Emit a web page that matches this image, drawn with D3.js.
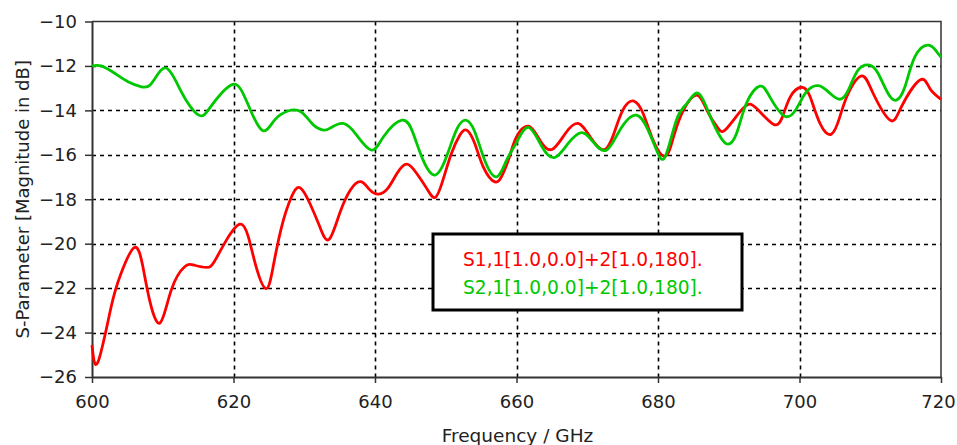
<!DOCTYPE html>
<html>
<head>
<meta charset="utf-8">
<script src="https://cdn.jsdelivr.net/npm/d3@7/dist/d3.min.js"></script>
<style>
  body { margin: 0; background: #fff; }
  text { font-family: "DejaVu Sans", Verdana, sans-serif; }
</style>
</head>
<body>
<script>
var s11Freq = [600.0, 600.85, 602.7, 604.1, 606.0, 607.2, 608.15, 609.6, 611.2, 613.1, 614.5, 616.2, 617.3, 619.0, 620.9, 622.1, 623.2, 624.6, 625.6, 626.8, 628.2, 629.4, 630.8, 632.2, 633.5, 635.0, 636.5, 638.0, 639.3, 640.5, 641.8, 643.1, 644.5, 645.9, 647.3, 648.5, 649.6, 650.8, 652.0, 652.96, 654.1, 655.3, 656.96, 658.1, 659.1, 660.0, 661.7, 663.3, 665.0, 666.9, 668.7, 670.4, 672.5, 674.1, 675.3, 676.6, 677.9, 679.3, 681.0, 682.2, 683.6, 685.5, 686.9, 688.5, 689.6, 691.6, 693.0, 694.4, 696.3, 697.5, 698.7, 700.3, 701.5, 702.9, 704.5, 705.7, 706.9, 708.8, 710.4, 712.8, 714.4, 717.0, 718.4, 720.0];
var s11 = [-24.57, -25.32, -22.85, -21.34, -20.17, -21.05, -22.55, -23.57, -22.09, -21.04, -20.97, -21.07, -20.8, -19.84, -19.12, -19.69, -21.04, -22.02, -21.04, -19.24, -17.89, -17.48, -18.19, -19.24, -19.81, -18.64, -17.59, -17.21, -17.59, -17.77, -17.51, -16.84, -16.42, -16.84, -17.51, -17.92, -17.14, -15.94, -15.11, -14.89, -15.49, -16.54, -17.22, -16.84, -16.0, -15.19, -14.71, -15.34, -15.76, -15.04, -14.59, -15.19, -15.76, -14.74, -13.84, -13.58, -14.14, -15.34, -16.06, -15.19, -13.99, -13.31, -13.99, -14.81, -14.85, -14.06, -13.72, -14.06, -14.62, -14.36, -13.39, -12.96, -13.39, -14.59, -15.07, -14.29, -13.23, -12.45, -13.23, -14.44, -13.84, -12.64, -13.0, -13.5];

var s21Freq = [600.0, 601.3, 603.2, 605.1, 607.0, 608.2, 609.4, 610.6, 611.9, 613.3, 615.2, 616.6, 618.3, 619.9, 621.1, 622.5, 624.2, 625.8, 627.7, 629.6, 631.3, 632.7, 633.6, 635.5, 637.4, 639.5, 641.2, 643.8, 645.4, 646.8, 648.5, 650.1, 651.5, 652.8, 654.1, 655.5, 657.2, 658.6, 660.0, 661.7, 663.6, 665.4, 667.3, 669.2, 670.8, 672.7, 674.6, 676.9, 678.6, 679.8, 681.0, 682.6, 684.1, 685.7, 687.3, 688.8, 689.9, 691.1, 692.5, 694.4, 695.8, 697.9, 699.6, 701.0, 702.7, 704.3, 705.7, 706.9, 708.3, 709.9, 711.1, 712.5, 713.7, 714.9, 716.3, 718.2, 719.4, 720.0];
var s21 = [-12.0, -12.0, -12.33, -12.71, -12.94, -12.86, -12.33, -12.11, -12.71, -13.54, -14.23, -13.91, -13.23, -12.83, -13.09, -14.06, -14.92, -14.44, -14.03, -14.08, -14.66, -14.89, -14.81, -14.59, -15.11, -15.79, -15.19, -14.44, -15.04, -16.24, -16.91, -16.09, -14.89, -14.44, -14.96, -16.24, -16.99, -16.24, -15.45, -14.77, -15.64, -16.12, -15.49, -15.0, -15.41, -15.79, -14.89, -14.21, -14.89, -15.79, -16.09, -14.44, -13.68, -13.23, -14.21, -15.19, -15.52, -15.04, -13.68, -12.91, -13.39, -14.26, -13.91, -13.16, -12.89, -13.23, -13.5, -13.09, -12.18, -11.96, -12.33, -13.23, -13.54, -12.94, -11.59, -11.06, -11.36, -11.6];

var xTicks = [600, 620, 640, 660, 680, 700, 720];
var yTicks = [-10, -12, -14, -16, -18, -20, -22, -24, -26];
var legendLabels = ['S1,1[1.0,0.0]+2[1.0,180].', 'S2,1[1.0,0.0]+2[1.0,180].'];
var colors = ['#ff0000', '#00c800'];

var screen = { width: 957, height: 445 };
var margins = { top: 21.5, bottom: 68, left: 92, right: 16 };

var xScale = d3.scaleLinear()
               .domain([600, 720])
               .range([margins.left, screen.width - margins.right]);
var yScale = d3.scaleLinear()
               .domain([-26, -10])
               .range([screen.height - margins.bottom, margins.top]);

var svg = d3.select('body').append('svg')
            .attr('width', screen.width)
            .attr('height', screen.height);

// grid
svg.append('g')
   .classed('grid', true)
   .selectAll('line.v')
   .data(xTicks.slice(1, -1))
   .enter()
   .append('line')
   .attr('x1', function(d){ return Math.round(xScale(d)) + 0.5; })
   .attr('x2', function(d){ return Math.round(xScale(d)) + 0.5; })
   .attr('y1', yScale(-10))
   .attr('y2', yScale(-26))
   .attr('stroke', '#000')
   .attr('stroke-width', 1.6)
   .attr('stroke-dasharray', '4,4');

svg.select('.grid')
   .selectAll('line.h')
   .data(yTicks.slice(1, -1))
   .enter()
   .append('line')
   .attr('y1', function(d){ return Math.round(yScale(d)) + 0.5; })
   .attr('y2', function(d){ return Math.round(yScale(d)) + 0.5; })
   .attr('x1', xScale(600))
   .attr('x2', xScale(720))
   .attr('stroke', '#000')
   .attr('stroke-width', 1.6)
   .attr('stroke-dasharray', '4,4');

// frame top and right
svg.append('path')
   .attr('d', 'M' + xScale(600) + ',' + yScale(-10) + 'H' + xScale(720) + 'V' + yScale(-26))
   .attr('fill', 'none')
   .attr('stroke', '#333')
   .attr('stroke-width', 1.5);

var xAxis = d3.axisBottom(xScale)
              .tickValues(xTicks)
              .tickSize(6)
              .tickSizeOuter(0)
              .tickPadding(12);
var yAxis = d3.axisLeft(yScale)
              .tickValues(yTicks)
              .tickSize(7)
              .tickSizeOuter(0)
              .tickPadding(8);

var gx = svg.append('g')
            .classed('xAxis', true)
            .attr('transform', 'translate(0,' + yScale(-26) + ')')
            .call(xAxis);
var gy = svg.append('g')
            .classed('yAxis', true)
            .attr('transform', 'translate(' + xScale(600) + ',0)')
            .call(yAxis);

[gx, gy].forEach(function(g){
  g.select('.domain').attr('stroke', '#333').attr('stroke-width', 2);
  g.selectAll('.tick line').attr('stroke', '#333').attr('stroke-width', 1.5);
  g.selectAll('.tick text')
   .attr('font-family', '"DejaVu Sans", Verdana, sans-serif')
   .attr('font-size', 18)
   .attr('fill', '#222');
});
// keep the last label inside the window
gx.selectAll('.tick text')
  .filter(function(d){ return d === 720; })
  .attr('dx', -3);

// curves
var line = d3.line()
             .x(function(d){ return xScale(d[0]); })
             .y(function(d){ return yScale(d[1]); })
             .curve(d3.curveNatural);

var series = [d3.zip(s11Freq, s11), d3.zip(s21Freq, s21)];

svg.append('g')
   .classed('curves', true)
   .selectAll('path')
   .data(series)
   .enter()
   .append('path')
   .attr('d', line)
   .attr('fill', 'none')
   .attr('stroke', function(d, i){ return colors[i]; })
   .attr('stroke-width', 2.8)
   .attr('stroke-linejoin', 'round');

// legend
var legend = svg.append('g').classed('legend', true);
legend.append('rect')
      .attr('x', 433)
      .attr('y', 234)
      .attr('width', 309)
      .attr('height', 76)
      .attr('fill', '#fff')
      .attr('stroke', '#000')
      .attr('stroke-width', 3);
legend.selectAll('text')
      .data(legendLabels)
      .enter()
      .append('text')
      .attr('x', 463)
      .attr('y', function(d, i){ return 266 + i * 28; })
      .attr('font-size', 18.6)
      .attr('fill', function(d, i){ return colors[i]; })
      .text(function(d){ return d; });

// titles
svg.append('text')
   .attr('x', (xScale(600) + xScale(720)) / 2 + 1)
   .attr('y', 442)
   .attr('text-anchor', 'middle')
   .attr('font-size', 18.5)
   .attr('fill', '#222')
   .text('Frequency / GHz');

svg.append('text')
   .attr('transform', 'translate(29,' + ((yScale(-10) + yScale(-26)) / 2) + ') rotate(-90)')
   .attr('text-anchor', 'middle')
   .attr('font-size', 18)
   .attr('fill', '#222')
   .text('S-Parameter [Magnitude in dB]');
</script>
</body>
</html>
